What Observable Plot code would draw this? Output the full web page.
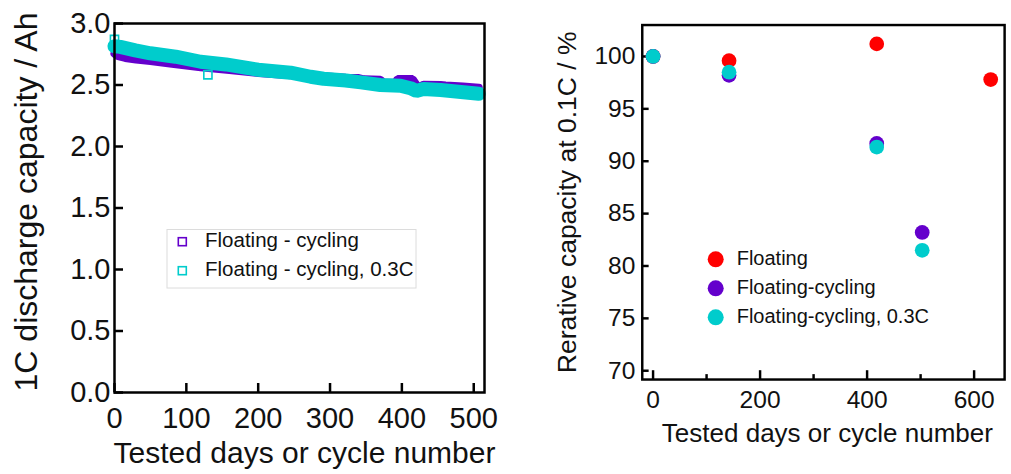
<!DOCTYPE html>
<html>
<head>
<meta charset="utf-8">
<script src="https://cdn.jsdelivr.net/npm/d3@7"></script>
<script src="https://cdn.jsdelivr.net/npm/@observablehq/plot@0.6"></script>
<style>
  html, body { margin: 0; padding: 0; background: #fff; }
  body { width: 1011px; height: 474px; overflow: hidden; position: relative;
         font-family: "Liberation Sans", Arial, Helvetica, sans-serif; }
  .panel { position: absolute; top: 0; }
  #left { left: 0; }
  #right { left: 520px; }
  #legends { position: absolute; left: 0; top: 0; pointer-events: none; }
</style>
</head>
<body>
<div id="left" class="panel"></div>
<div id="right" class="panel"></div>
<svg id="legends" width="1011" height="474"></svg>
<script>
// ---- Left panel: 1C discharge capacity during floating–cycling tests ----
const cyclingDays = [0, 5, 15, 30, 50, 80, 120, 160, 200, 240, 280, 301, 322, 340, 347, 370, 375, 391, 394, 415, 423, 430, 454, 461, 485, 507];
const cyclingCapacity = [2.755, 2.735, 2.72, 2.707, 2.695, 2.672, 2.645, 2.622, 2.598, 2.582, 2.573, 2.568, 2.559, 2.556, 2.546, 2.543, 2.518, 2.518, 2.548, 2.548, 2.478, 2.502, 2.5, 2.497, 2.488, 2.478];

const cycling03Days = [0, 8, 29, 50, 85, 120, 155, 200, 245, 273, 291, 322, 343, 370, 398, 412, 420, 430, 454, 507];
const cycling03Capacity = [2.815, 2.81, 2.782, 2.758, 2.73, 2.689, 2.667, 2.624, 2.6, 2.567, 2.551, 2.537, 2.521, 2.5, 2.494, 2.474, 2.452, 2.468, 2.46, 2.429];

// isolated open squares of the 0.3C series
const cycling03MarkDays = [0, 130];
const cycling03MarkCapacity = [2.87, 2.583];

const leftXTicks = [0, 100, 200, 300, 400, 500];
const leftYTicks = [0, 0.5, 1.0, 1.5, 2.0, 2.5, 3.0];
const leftSeries = ["Floating - cycling", "Floating - cycling, 0.3C"];

// ---- Right panel: relative capacity at 0.1C ----
const floatDays = [0, 142, 418, 631];
const floatRelative = [100, 99.6, 101.2, 97.8];
const fcDays = [0, 142, 418, 503];
const fcRelative = [100, 98.2, 91.7, 83.2];
const fc03Days = [0, 142, 418, 503];
const fc03Relative = [100, 98.5, 91.35, 81.5];

const rightXTicks = [0, 200, 400, 600];
const rightXMinorTicks = [100, 300, 500];
const rightYTicks = [70, 75, 80, 85, 90, 95, 100];
const rightSeries = ["Floating", "Floating-cycling", "Floating-cycling, 0.3C"];

const RED = "#ff0000", PURPLE = "#6400cc", CYAN = "#00cccc";
const FONT = "'Liberation Sans', Arial, Helvetica, sans-serif";

const zip = (xs, ys) => xs.map((x, i) => ({x, y: ys[i]}));

// ---------- left chart ----------
{
  const width = 520, height = 474;
  const m = {top: 23, right: 36, bottom: 82, left: 114};
  const innerW = width - m.left - m.right, innerH = height - m.top - m.bottom;
  const chart = Plot.plot({
    width, height,
    marginTop: m.top, marginRight: m.right, marginBottom: m.bottom, marginLeft: m.left,
    style: {fontFamily: FONT, color: "#111", background: "transparent", overflow: "visible"},
    x: {domain: [0, 515], label: null},
    y: {domain: [0, 3.0], label: null},
    marks: [
      Plot.line(zip(cyclingDays, cyclingCapacity), {x: "x", y: "y", stroke: PURPLE, strokeWidth: 8, strokeLinejoin: "miter"}),
      Plot.line(zip(cycling03Days, cycling03Capacity), {x: "x", y: "y", stroke: CYAN, strokeWidth: 14, strokeLinejoin: "miter"}),
      Plot.dot(zip(cycling03MarkDays, cycling03MarkCapacity), {x: "x", y: "y", symbol: "square", r: 4.6, stroke: CYAN, strokeWidth: 1.6, fill: "none"}),
      Plot.ruleX(leftXTicks, {x: d => d, insetTop: innerH - 9, stroke: "#000", strokeWidth: 2.5}),
      Plot.ruleY(leftYTicks, {y: d => d, insetRight: innerW - 9, stroke: "#000", strokeWidth: 2.5}),
      Plot.frame({stroke: "#000", strokeWidth: 2.5}),
      Plot.axisX(leftXTicks, {tickSize: 0, tickPadding: 15, fontSize: 29, label: null, tickFormat: d => String(d)}),
      Plot.axisY(leftYTicks, {tickSize: 0, tickPadding: 4, fontSize: 29, label: null, tickFormat: d => d.toFixed(1)}),
      Plot.text(["Tested days or cycle number"], {text: d => d, frameAnchor: "bottom", textAnchor: "middle", lineAnchor: "bottom", dy: 70, dx: 5, fontSize: 30, fill: "#111"}),
      Plot.text(["1C discharge capacity / Ah"], {text: d => d, frameAnchor: "left", textAnchor: "middle", rotate: -90, lineAnchor: "bottom", dx: -78, dy: -6, fontSize: 32, fill: "#111"})
    ]
  });
  document.getElementById("left").append(chart);
}

// ---------- right chart ----------
{
  const width = 500, height = 474;
  const m = {top: 25, right: 7, bottom: 88, left: 124};
  const innerW = width - m.left - m.right, innerH = height - m.top - m.bottom;
  const chart = Plot.plot({
    width, height,
    marginTop: m.top, marginRight: m.right, marginBottom: m.bottom, marginLeft: m.left,
    style: {fontFamily: FONT, color: "#111", background: "transparent", overflow: "visible"},
    x: {domain: [-20.2, 657], label: null},
    y: {domain: [69.16, 103.0], label: null},
    marks: [
      Plot.ruleX(rightXTicks, {x: d => d, insetTop: innerH - 9, stroke: "#000", strokeWidth: 2.5}),
      Plot.ruleX(rightXMinorTicks, {x: d => d, insetTop: innerH - 5, stroke: "#000", strokeWidth: 2.5}),
      Plot.ruleY(rightYTicks, {y: d => d, insetRight: innerW - 7, stroke: "#000", strokeWidth: 2.5}),
      Plot.frame({stroke: "#000", strokeWidth: 2.5}),
      Plot.dot(zip(floatDays, floatRelative), {x: "x", y: "y", r: 7.5, fill: RED}),
      Plot.dot(zip(fcDays, fcRelative), {x: "x", y: "y", r: 7.5, fill: PURPLE}),
      Plot.dot(zip(fc03Days, fc03Relative), {x: "x", y: "y", r: 7.5, fill: CYAN}),
      Plot.axisX(rightXTicks, {tickSize: 0, tickPadding: 11, fontSize: 25, label: null, tickFormat: d => String(d)}),
      Plot.axisY(rightYTicks, {tickSize: 0, tickPadding: 7, fontSize: 25, label: null, tickFormat: d => String(d)}),
      Plot.text(["Tested days or cycle number"], {text: d => d, frameAnchor: "bottom", textAnchor: "middle", lineAnchor: "bottom", dy: 64, dx: 4, fontSize: 26.5, fill: "#111"}),
      Plot.text(["Rerative capacity at 0.1C / %"], {text: d => d, frameAnchor: "left", textAnchor: "middle", rotate: -90, lineAnchor: "bottom", dx: -67, dy: 0, fontSize: 27, fill: "#111"})
    ]
  });
  document.getElementById("right").append(chart);
}

// ---------- legends ----------
{
  const svg = d3.select("#legends").style("font-family", FONT);

  // left legend: open squares in a light box
  const lg = svg.append("g");
  lg.append("rect").attr("x", 167).attr("y", 229.5).attr("width", 249).attr("height", 58.5)
    .attr("fill", "#fff").attr("stroke", "#dcdcdc").attr("stroke-width", 1);
  const leftColors = [PURPLE, CYAN];
  leftSeries.forEach((name, i) => {
    const cy = 241.7 + i * 29;
    lg.append("rect").attr("x", 178.3).attr("y", cy - 4).attr("width", 8).attr("height", 8)
      .attr("fill", "none").attr("stroke", leftColors[i]).attr("stroke-width", 1.6);
    lg.append("text").attr("x", 205).attr("y", cy + 5.2).attr("font-size", 20.5)
      .attr("fill", "#111").text(name);
  });

  // right legend: filled circles
  const rg = svg.append("g");
  const rightColors = [RED, PURPLE, CYAN];
  rightSeries.forEach((name, i) => {
    const cy = 259.3 + i * 29;
    rg.append("circle").attr("cx", 715.7).attr("cy", cy).attr("r", 8).attr("fill", rightColors[i]);
    rg.append("text").attr("x", 736.7).attr("y", cy + 6).attr("font-size", 20)
      .attr("fill", "#111").text(name);
  });
}
</script>
</body>
</html>
